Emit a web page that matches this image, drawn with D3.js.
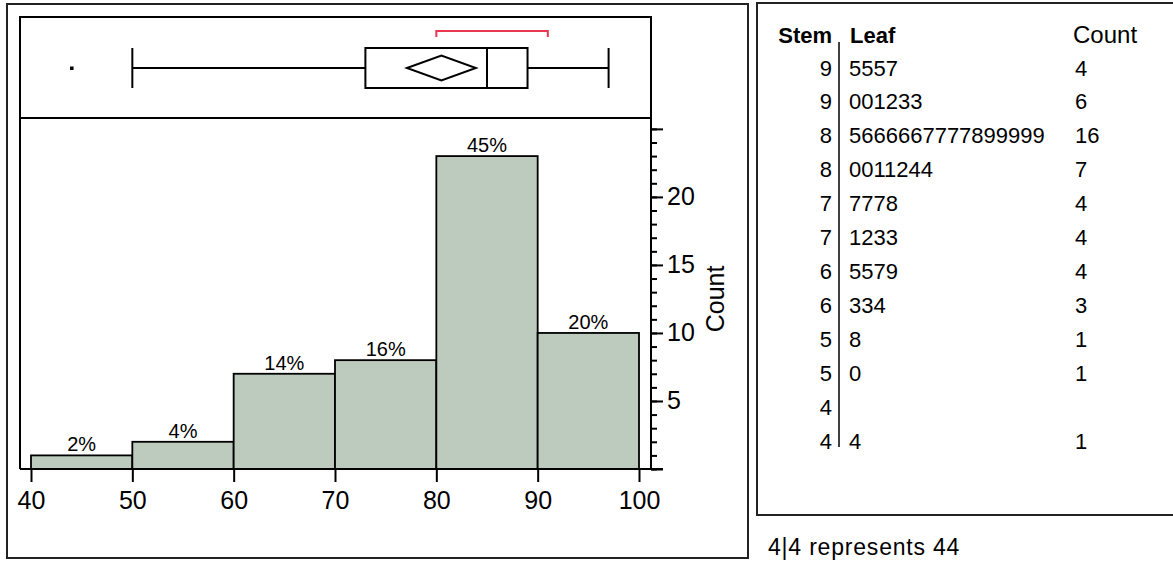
<!DOCTYPE html>
<html>
<head>
<meta charset="utf-8">
<script src="https://cdn.jsdelivr.net/npm/d3@7"></script>
<style>
  html, body { margin: 0; padding: 0; background: #fff; }
  svg { display: block; font-family: "Liberation Sans", Arial, sans-serif; }
</style>
</head>
<body>
<svg id="chart" width="1173" height="562"></svg>
<script>
// ---- Data ----
const binStarts = [40, 50, 60, 70, 80, 90];
const binWidth = 10;
const binCounts = [1, 2, 7, 8, 23, 10];
const binPercentLabels = ["2%", "4%", "14%", "16%", "45%", "20%"];
const xTickValues = [40, 50, 60, 70, 80, 90, 100];
const yMajorTicks = [0, 5, 10, 15, 20, 25];
const yLabelledTicks = [5, 10, 15, 20];
const yAxisTitle = "Count";

// box plot summary
const boxWhiskers = [50, 97];
const boxQuartiles = [73, 89];
const boxMedian = 85;
const meanValue = 80.5;
const meanCI = [77.1, 83.9];
const outliers = [44];
const shortestHalf = [80, 91];

// stem and leaf
const stemHeaders = ["Stem", "Leaf", "Count"];
const stems = ["9", "9", "8", "8", "7", "7", "6", "6", "5", "5", "4", "4"];
const leaves = ["5557", "001233", "5666667777899999", "0011244", "7778", "1233", "5579", "334", "8", "0", "", "4"];
const leafCounts = ["4", "6", "16", "7", "4", "4", "4", "3", "1", "1", "", "1"];
const stemNote = "4|4 represents 44";

// ---- Drawing ----
const svg = d3.select("#chart");
const ink = "#000";

// outer frame of the distribution panel
svg.append("rect").attr("x", 7).attr("y", 4).attr("width", 741).attr("height", 554)
  .attr("fill", "none").attr("stroke", "#222").attr("stroke-width", 2);

const x = d3.scaleLinear().domain([40, 100]).range([31, 639]);
const y = d3.scaleLinear().domain([0, 25.8]).range([469, 118]);

const plotLeft = 20, plotTop = 17, axisX = 651, boxBottom = 118, baseY = y(0);

// inner frame: top, left, box panel bottom
svg.append("path")
  .attr("d", `M${plotLeft},${baseY} L${plotLeft},${plotTop} L${axisX},${plotTop} L${axisX},${boxBottom}`)
  .attr("fill", "none").attr("stroke", ink).attr("stroke-width", 2);
svg.append("line").attr("x1", plotLeft).attr("x2", axisX).attr("y1", boxBottom).attr("y2", boxBottom)
  .attr("stroke", ink).attr("stroke-width", 2);

// histogram bars
const barG = svg.append("g");
barG.selectAll("rect").data(binStarts).join("rect")
  .attr("x", d => x(d))
  .attr("width", d => x(d + binWidth) - x(d))
  .attr("y", (d, i) => y(binCounts[i]))
  .attr("height", (d, i) => baseY - y(binCounts[i]))
  .attr("fill", "#bccbbd").attr("stroke", ink).attr("stroke-width", 1.8);

barG.selectAll("text").data(binStarts).join("text")
  .attr("x", d => x(d + binWidth / 2))
  .attr("y", (d, i) => y(binCounts[i]) - 4)
  .attr("text-anchor", "middle").attr("font-size", 20).attr("fill", ink)
  .text((d, i) => binPercentLabels[i]);

// x axis baseline and ticks
svg.append("line").attr("x1", plotLeft).attr("x2", axisX + 12).attr("y1", baseY).attr("y2", baseY)
  .attr("stroke", ink).attr("stroke-width", 2);
const xAxis = d3.axisBottom(x).tickValues(xTickValues).tickSize(13).tickPadding(9.5).tickFormat(d3.format("d"));
const xg = svg.append("g").attr("transform", `translate(0,${baseY})`).call(xAxis);
xg.select(".domain").remove();
xg.selectAll(".tick line").attr("stroke", ink).attr("stroke-width", 2);
xg.selectAll(".tick text").attr("font-size", 25).attr("fill", ink)
  .attr("font-family", "Liberation Sans, Arial, sans-serif");

// y axis on the right
const yMinor = d3.range(0, 26, 1);
const yAxisMinor = d3.axisRight(y).tickValues(yMinor).tickSize(6).tickFormat("");
const ygm = svg.append("g").attr("transform", `translate(${axisX},0)`).call(yAxisMinor);
ygm.select(".domain").remove();
ygm.selectAll(".tick line").attr("stroke", ink).attr("stroke-width", 2);

const yAxisMajor = d3.axisRight(y).tickValues(yMajorTicks).tickSize(12).tickPadding(4)
  .tickFormat(d => yLabelledTicks.includes(d) ? d : "");
const ygM = svg.append("g").attr("transform", `translate(${axisX},0)`).call(yAxisMajor);
ygM.select(".domain").remove();
ygM.selectAll(".tick line").attr("stroke", ink).attr("stroke-width", 2);
ygM.selectAll(".tick text").attr("font-size", 25).attr("fill", ink)
  .attr("font-family", "Liberation Sans, Arial, sans-serif");
svg.append("line").attr("x1", axisX).attr("x2", axisX).attr("y1", boxBottom).attr("y2", baseY)
  .attr("stroke", ink).attr("stroke-width", 2);

svg.append("text").attr("transform", `translate(724,${y(12.5)}) rotate(-90)`)
  .attr("text-anchor", "middle").attr("font-size", 25).attr("fill", ink).text(yAxisTitle);

// box plot
const by = 68, bh = 40;
const boxG = svg.append("g").attr("stroke", ink).attr("stroke-width", 2).attr("fill", "none");
boxG.append("line").attr("x1", x(boxWhiskers[0])).attr("x2", x(boxQuartiles[0])).attr("y1", by).attr("y2", by);
boxG.append("line").attr("x1", x(boxQuartiles[1])).attr("x2", x(boxWhiskers[1])).attr("y1", by).attr("y2", by);
boxG.selectAll("line.cap").data(boxWhiskers).join("line").attr("class", "cap")
  .attr("x1", d => x(d)).attr("x2", d => x(d)).attr("y1", by - bh / 2).attr("y2", by + bh / 2);
boxG.append("rect").attr("x", x(boxQuartiles[0])).attr("width", x(boxQuartiles[1]) - x(boxQuartiles[0]))
  .attr("y", by - bh / 2).attr("height", bh).attr("fill", "#fff");
boxG.append("line").attr("x1", x(boxMedian)).attr("x2", x(boxMedian)).attr("y1", by - bh / 2).attr("y2", by + bh / 2);
boxG.append("path")
  .attr("d", `M${x(meanCI[0])},${by} L${x(meanValue)},${by - 12.5} L${x(meanCI[1])},${by} L${x(meanValue)},${by + 12.5} Z`);
svg.selectAll("rect.outlier").data(outliers).join("rect").attr("class", "outlier")
  .attr("x", d => x(d) - 1.5).attr("y", by - 1.5).attr("width", 3.5).attr("height", 3.5).attr("fill", ink);

// shortest half bracket
svg.append("path")
  .attr("d", `M${x(shortestHalf[0])},37 L${x(shortestHalf[0])},31 L${x(shortestHalf[1])},31 L${x(shortestHalf[1])},37`)
  .attr("fill", "none").attr("stroke", "#e8384f").attr("stroke-width", 2);

// ---- stem and leaf panel ----
svg.append("rect").attr("x", 757).attr("y", 3).attr("width", 430).attr("height", 512)
  .attr("fill", "none").attr("stroke", "#222").attr("stroke-width", 2);

const rowY = d3.scalePoint().domain(d3.range(stems.length)).range([75.5, 448.5]);
const stemX = 832, leafX = 849, countX = 1073;
const sl = svg.append("g").attr("font-size", 22).attr("fill", ink);

sl.append("text").attr("x", stemX).attr("y", 42.5).attr("text-anchor", "end").attr("font-weight", "bold").text(stemHeaders[0]);
sl.append("text").attr("x", leafX + 1).attr("y", 42.5).attr("font-weight", "bold").text(stemHeaders[1]);
sl.append("text").attr("x", countX).attr("y", 43).attr("font-size", 24).text(stemHeaders[2]);

sl.selectAll("text.stem").data(stems).join("text").attr("class", "stem")
  .attr("x", stemX).attr("y", (d, i) => rowY(i)).attr("text-anchor", "end").text(d => d);
sl.selectAll("text.leaf").data(leaves).join("text").attr("class", "leaf")
  .attr("x", leafX).attr("y", (d, i) => rowY(i)).text(d => d);
sl.selectAll("text.cnt").data(leafCounts).join("text").attr("class", "cnt")
  .attr("x", countX + 2).attr("y", (d, i) => rowY(i)).text(d => d);

svg.append("line").attr("x1", 839).attr("x2", 839).attr("y1", 42).attr("y2", 447)
  .attr("stroke", ink).attr("stroke-width", 1.5);

svg.append("text").attr("x", 768).attr("y", 555).attr("font-size", 23).attr("letter-spacing", 0.8)
  .attr("fill", ink).text(stemNote);
</script>
</body>
</html>
